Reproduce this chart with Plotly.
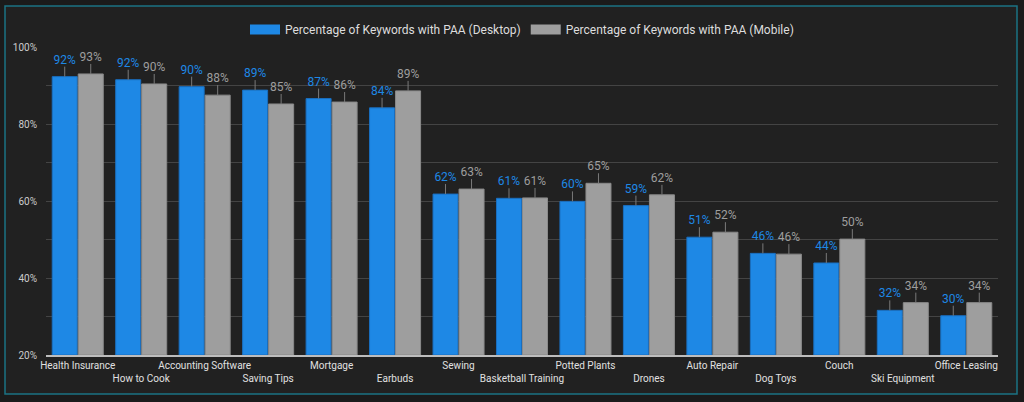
import plotly.graph_objects as go

categories = ["Health Insurance", "How to Cook", "Accounting Software", "Saving Tips", "Mortgage",
              "Earbuds", "Sewing", "Basketball Training", "Potted Plants", "Drones",
              "Auto Repair", "Dog Toys", "Couch", "Ski Equipment", "Office Leasing"]
desktop = [92.3, 91.5, 89.7, 88.8, 86.6, 84.2, 61.8, 60.7, 59.9, 58.8, 50.6, 46.4, 43.9, 31.6, 30.2]
mobile = [93.0, 90.4, 87.5, 85.2, 85.7, 88.6, 63.1, 60.8, 64.6, 61.6, 51.9, 46.2, 50.1, 33.6, 33.6]
series_names = ["Percentage of Keywords with PAA (Desktop)", "Percentage of Keywords with PAA (Mobile)"]
y_ticks = [20, 30, 40, 50, 60, 70, 80, 90, 100]
y_ticktext = ["20%", "", "40%", "", "60%", "", "80%", "", "100%"]

BLUE = "#1e88e5"
GRAY = "#9e9e9e"
BG = "#212121"
OUTER = "#1b1b1b"
LEAD = 2.6
OFF = 0.205
W = 0.394

idx = list(range(len(categories)))
xd = [i - OFF for i in idx]
xm = [i + OFF for i in idx]
ticktext = [c if i % 2 == 0 else "<br>" + c for i, c in enumerate(categories)]

fig = go.Figure()
for xs, vals, col, edge in [(xd, desktop, BLUE, "#1a6fc0"), (xm, mobile, GRAY, "#8a8a8a")]:
    fig.add_trace(go.Bar(
        x=xs, y=[v - 20 for v in vals], base=20, width=W,
        marker=dict(color=col, line=dict(color=edge, width=1)),
        error_y=dict(type="data", symmetric=False, array=[LEAD] * len(vals),
                     arrayminus=[0] * len(vals), width=0, thickness=1, color="#7a7a7a"),
        showlegend=False, hoverinfo="skip"))
    fig.add_trace(go.Scatter(
        x=xs, y=[v + LEAD for v in vals], mode="text",
        text=[f"{round(v)}%" for v in vals], textposition="top center",
        textfont=dict(family="Roboto", size=12, color=col),
        showlegend=False, hoverinfo="skip"))

for name, col in zip(series_names, [BLUE, GRAY]):
    fig.add_trace(go.Scatter(x=[None], y=[None], mode="lines", name=name,
                             line=dict(color=col, width=11)))

fig.add_shape(type="rect", xref="paper", yref="paper",
              x0=(5 - 46) / 952, x1=(1017 - 46) / 952,
              y0=(355 - 394) / 308, y1=(355 - 6) / 308,
              line=dict(color="#1b7384", width=1.5), fillcolor=BG, layer="below")

fig.update_layout(
    width=1024, height=402,
    margin=dict(l=46, r=26, t=47, b=47, autoexpand=False),
    paper_bgcolor=OUTER, plot_bgcolor=BG,
    font=dict(family="Roboto", color="#dddddd"),
    legend=dict(orientation="h", x=0.5, xanchor="center", y=(355 - 29.5) / 308, yanchor="middle",
                font=dict(size=12, color="#dddddd"), bgcolor="rgba(0,0,0,0)", itemwidth=30),
    xaxis=dict(range=[-0.5, len(categories) - 0.5], tickvals=idx, ticktext=ticktext,
               tickangle=0, automargin=False,
               showgrid=False, zeroline=False, showline=True, linecolor="#bdbdbd", linewidth=1.5,
               tickfont=dict(size=10, color="#e0e0e0"), ticks="", fixedrange=True),
    yaxis=dict(range=[20, 100], tickvals=y_ticks, ticktext=y_ticktext, automargin=False,
               showgrid=True, gridcolor="#444444", gridwidth=1, zeroline=False,
               tickfont=dict(size=10, color="#cccccc"), ticks="outside", ticklen=6, tickcolor=BG,
               fixedrange=True),
)

fig.write_html("out.html", config={"displayModeBar": False},
               post_script="document.body.style.margin='0';document.body.style.background='#1b1b1b';")
